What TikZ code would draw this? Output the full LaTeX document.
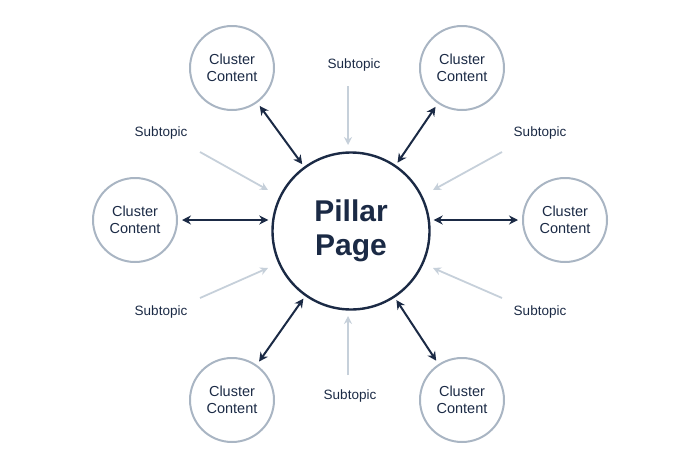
\documentclass[tikz,border=0pt]{standalone}
\usepackage{fontspec}
\setmainfont{Liberation Sans}
\usetikzlibrary{arrows.meta}
\definecolor{navy}{HTML}{1B2A45}
\definecolor{ring}{HTML}{A9B5C3}
\definecolor{pale}{HTML}{C6D0DA}
\tikzstyle{Pillar}=[circle,draw=navy,line width=2.4pt,minimum size=157pt,align=center,text=navy,font=\bfseries\fontsize{30}{34}\selectfont]
\tikzstyle{Cluster}=[circle,draw=ring,line width=2pt,minimum size=84pt,align=center,text=navy,font=\fontsize{14.5}{17}\selectfont]
\tikzstyle{Label}=[text=navy,font=\fontsize{13.5}{15}\selectfont]
\tikzstyle{Link}=[draw=navy,line width=2pt,{Stealth[length=9pt,width=9pt]}-{Stealth[length=9pt,width=9pt]},shorten >=3pt,shorten <=4pt]
\tikzstyle{Hint}=[draw=pale,line width=1.8pt,-{Stealth[length=8pt,width=8pt]}]
\begin{document}
\begin{tikzpicture}[x=1pt,y=-1pt]
  \useasboundingbox (0,0) rectangle (700,466);

  % Pillar
  \node[Pillar] (P) at (351,231) {Pillar\\Page};

  % Clusters
  \node[Cluster] (CTL) at (232,68) {Cluster\\Content};
  \node[Cluster] (CTR) at (462,68) {Cluster\\Content};
  \node[Cluster] (CL) at (135,220) {Cluster\\Content};
  \node[Cluster] (CR) at (565,220) {Cluster\\Content};
  \node[Cluster] (CBL) at (232,400) {Cluster\\Content};
  \node[Cluster] (CBR) at (462,400) {Cluster\\Content};

  \foreach \c in {CTL,CTR,CBL,CBR}
    \draw[Link] (\c) -- (P);
  \draw[Link] (CL) -- (P.west |- CL);
  \draw[Link] (CR) -- (P.east |- CR);

  % Subtopics
  \node[Label] (ST) at (354,65) {Subtopic};
  \node[Label] (STL) at (161,133) {Subtopic};
  \node[Label] (STR) at (540,133) {Subtopic};
  \node[Label] (SBL) at (161,312) {Subtopic};
  \node[Label] (SBR) at (540,312) {Subtopic};
  \node[Label] (SB) at (350,396) {Subtopic};

  \coordinate (eT) at (348,145);
  \coordinate (eTL) at (268,190);
  \coordinate (eTR) at (433,190);
  \coordinate (eBL) at (268,268);
  \coordinate (eBR) at (433,268);
  \coordinate (eB) at (348,316);

  \draw[Hint] (348,86) -- (eT);
  \draw[Hint] (200,152) -- (eTL);
  \draw[Hint] (502,152) -- (eTR);
  \draw[Hint] (200,298) -- (eBL);
  \draw[Hint] (502,298) -- (eBR);
  \draw[Hint] (348,375) -- (eB);
\end{tikzpicture}
\end{document}
